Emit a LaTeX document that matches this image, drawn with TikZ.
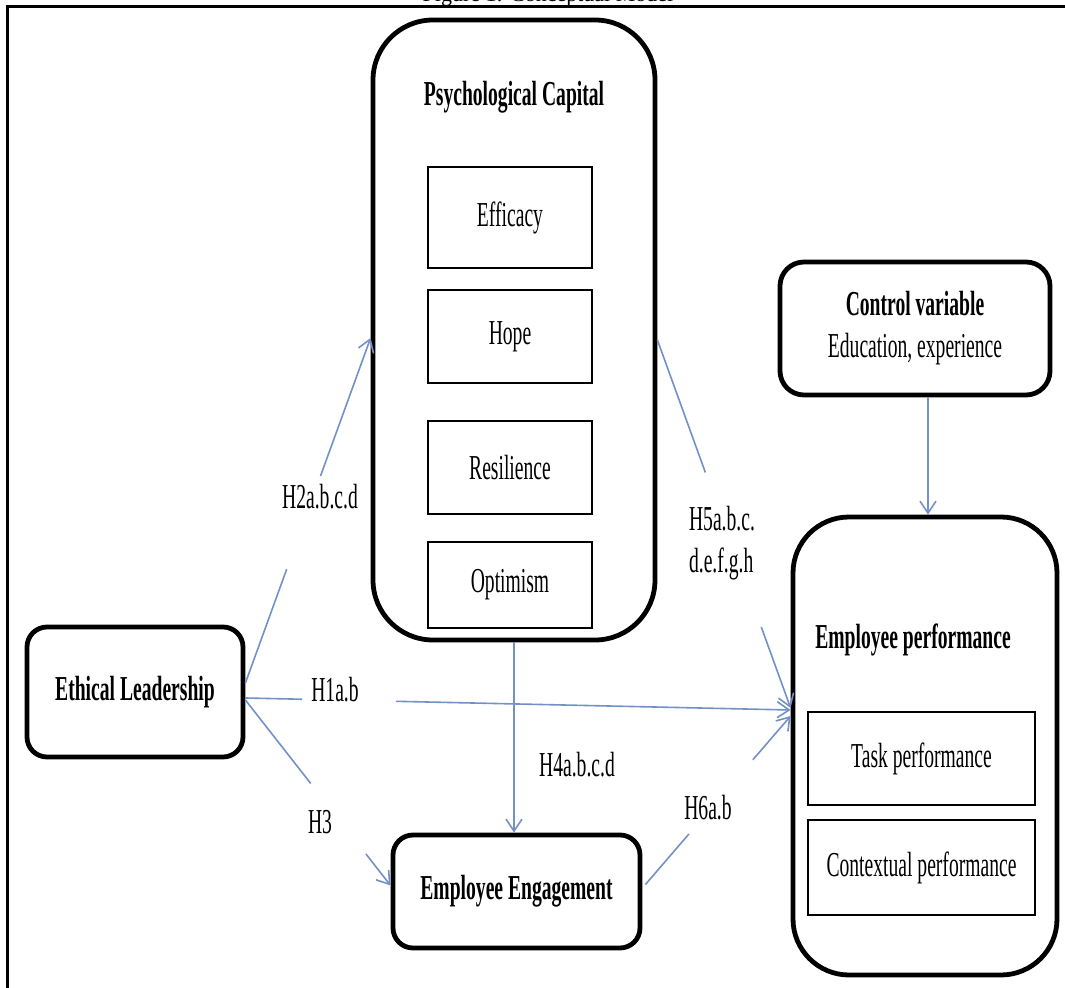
\documentclass[tikz,border=0pt]{standalone}
\usepackage{fontspec}
\setmainfont{Liberation Serif}[FakeStretch=0.56]
\newfontfamily\titlefont{Liberation Serif}
\usetikzlibrary{arrows.meta,calc}
\definecolor{linkblue}{RGB}{115,145,198}
\tikzset{
  rbox/.style={draw, line width=2.4pt, rounded corners=#1, inner sep=0pt},
  ibox/.style={draw, line width=1.4pt, inner sep=0pt},
  txt/.style={font=\fontsize{17.5}{21}\selectfont, inner sep=0pt},
  btxt/.style={font=\fontsize{17.5}{21}\selectfont\bfseries, inner sep=0pt},
  conn/.style={draw=linkblue, line width=0.8pt},
  arr/.style={-{Straight Barb[length=6pt,width=8pt]}}
}
\begin{document}
\begin{tikzpicture}[x=0.5pt,y=-0.5pt]
\useasboundingbox (0,0) rectangle (1065,988);
% frame and cut title
\draw[line width=1.5pt] (1065,7) -- (7,7) -- (7,990);
\node[anchor=base, inner sep=0pt, font=\titlefont\fontsize{11}{13}\selectfont] (title) at (548,1.5) {Figure 1: Conceptual Model};

% Psychological capital
\node[rbox=30pt, minimum width=141pt, minimum height=310pt] (PC) at (514,330) {};
\node[btxt] (pct) at (514,97) {Psychological Capital};
\node[ibox, txt, minimum width=82pt, minimum height=50.5pt] (eff) at (510,217.5) {Efficacy};
\node[ibox, txt, minimum width=82pt, minimum height=46.5pt] (hope) at (510,336.5) {Hope};
\node[ibox, txt, minimum width=82pt, minimum height=46.5pt] (res) at (510,467.5) {Resilience};
\node[ibox, txt, minimum width=82pt, minimum height=43pt] (opt) at (510,585) {Optimism};

% Ethical leadership
\node[rbox=10pt, btxt, minimum width=108pt, minimum height=65pt] (EL) at (135,692) {Ethical Leadership};
% Employee engagement
\node[rbox=10pt, btxt, minimum width=123.5pt, minimum height=56.5pt] (EE) at (516.5,891.5) {Employee Engagement};
% Control variable
\node[rbox=12pt, txt, align=center, minimum width=135pt, minimum height=66.5pt] (CV) at (915,328.5) {\textbf{Control variable}\\Education, experience};
% Employee performance
\node[rbox=28pt, minimum width=132pt, minimum height=229pt] (EP) at (925,746) {};
\node[btxt] (ept) at (913,640) {Employee performance};
\node[ibox, txt, minimum width=113.5pt, minimum height=46.5pt] (task) at (921.5,758.5) {Task performance};
\node[ibox, txt, minimum width=113.5pt, minimum height=47.5pt] (ctx) at (921.5,867.5) {Contextual performance};

% labels
\node[txt] (lH2) at (320,497) {H2a.b.c.d};
\node[txt, align=left] (lH5) at (722,543) {H5a.b.c.\\d.e.f.g.h};
\node[txt] (lH1) at (335,690) {H1a.b};
\node[txt] (lH4) at (577,765) {H4a.b.c.d};
\node[txt] (lH3) at (320,822) {H3};
\node[txt] (lH6) at (708,808) {H6a.b};

% connector end points
\coordinate (h2a) at ($(EL.east)+(0,-9)$);
\coordinate (h2b) at ($(PC.west)+(0,8)$);
\coordinate (h1a) at ($(EL.east)+(0,6)$);
\coordinate (h1b) at ($(EP.west)+(0,-36)$);
\coordinate (h3a) at ($(EL.east)+(0,8)$);
\coordinate (h3b) at ($(EE.west)+(0,-6)$);
\coordinate (h5a) at ($(PC.east)+(0,10)$);
\coordinate (h5b) at ($(EP.west)+(0,-38)$);
\coordinate (h6a) at ($(EE.east)+(3,-7)$);
\coordinate (h6b) at ($(EP.west)+(0,-30)$);
\coordinate (cva) at ($(CV.south)+(13,0)$);
\coordinate (cvb) at (cva |- EP.north);

% connectors (broken where the labels sit)
\draw[conn] (h2a) -- ($(h2a)!0.33!(h2b)$);
\draw[conn,arr] ($(h2a)!0.60!(h2b)$) -- (h2b);
\draw[conn] (h1a) -- ($(h1a)!0.104!(h1b)$);
\draw[conn,arr] ($(h1a)!0.276!(h1b)$) -- (h1b);
\draw[conn] (h3a) -- ($(h3a)!0.45!(h3b)$);
\draw[conn,arr] ($(h3a)!0.83!(h3b)$) -- (h3b);
\draw[conn] (h5a) -- ($(h5a)!0.36!(h5b)$);
\draw[conn,arr] ($(h5a)!0.78!(h5b)$) -- (h5b);
\draw[conn] (h6a) -- ($(h6a)!0.30!(h6b)$);
\draw[conn,arr] ($(h6a)!0.74!(h6b)$) -- (h6b);
\draw[conn,arr] (PC.south) -- (PC.south |- EE.north);
\draw[conn,arr] (cva) -- (cvb);
\end{tikzpicture}
\end{document}
